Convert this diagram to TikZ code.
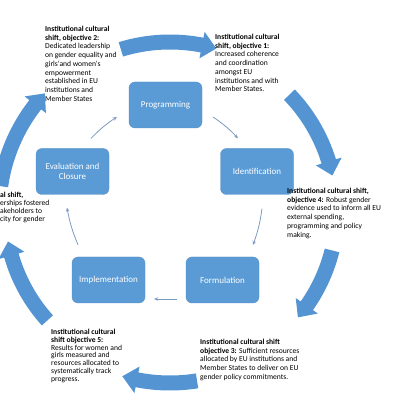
\documentclass[tikz,border=0pt]{standalone}
\usepackage{fontspec}
\setmainfont{Carlito}
\usetikzlibrary{arrows.meta,calc}
\definecolor{boxblue}{RGB}{91,155,213}
\definecolor{arrowblue}{RGB}{84,148,210}
\definecolor{flowgray}{RGB}{125,155,192}
\newcommand\bigarc[4]{%
  \fill[arrowblue,shift={(170,190)}]
    ({#1}:{#4+7.5}) arc[start angle={#1},end angle={#2},radius={#4+7.5}]
    -- ({#2}:{#4+13.5}) -- ({#3}:{#4}) -- ({#2}:{#4-13.5})
    -- ({#2}:{#4-7.5}) arc[start angle={#2},end angle={#1},radius={#4-7.5}]
    -- cycle;}
\tikzset{
  stagebox/.style={fill=boxblue,draw=boxblue!90!black,line width=0.3pt,rounded corners=6pt,
    minimum width=73pt,minimum height=46pt,inner sep=1pt,align=center,
    text=white,font=\fontsize{9}{10.5}\selectfont},
  note/.style={anchor=north west,inner sep=0pt,align=left,text=black,
    font=\fontsize{7.6}{8.7}\selectfont},
  flow/.style={draw=flowgray,line width=0.8pt,-{Stealth[length=4pt,width=3.5pt]}}
}
\begin{document}
\begin{tikzpicture}[x=1pt,y=1pt]
\useasboundingbox (0,0) rectangle (400,400);
\fill[white] (0,0) rectangle (400,400);
\clip (0,0) rectangle (400,400);
% big curved arrows
\bigarc{107}{79}{74}{168}
\bigarc{44}{17}{12}{166}
\bigarc{-14}{-35}{-40}{167}
\bigarc{-81}{-101}{-106}{173}
\bigarc{-138}{-164}{-169}{165}
\bigarc{172}{142}{137}{171}
% stage boxes
\node[stagebox] (prog) at (165.5,295) {Programming};
\node[stagebox] (ident) at (257,228.5) {Identification};
\node[stagebox] (form) at (222.5,120) {Formulation};
\node[stagebox] (impl) at (108.5,120) {Implementation};
\node[stagebox] (eval) at (72.5,228.5) {Evaluation and\\Closure};
% small flow arrows
\draw[flow] ($(eval.north)+(18.5,10)$) to[bend left=6] ($(prog.west)+(-12,-12)$);
\draw[flow] ($(prog.east)+(11,-12)$) to[bend left=6] ($(ident.north)+(-19,10)$);
\draw[flow] ($(ident.south)+(5,-14)$) to[bend left=6] ($(form.north)+(30.5,12)$);
\draw[flow] ($(form.west)+(-9,-19)$) -- ($(impl.east)+(9,-19)$);
\draw[flow] ($(impl.north)+(-30.5,12)$) to[bend left=6] ($(eval.south)+(-5.5,-13)$);
% notes
\node[note] (n2) at (45,374) {\textbf{Institutional cultural}\\\textbf{shift, objective 2:}\\Dedicated leadership\\on gender equality and\\girls`and women`s\\empowerment\\established in EU\\institutions and\\Member States};
\node[note] (n1) at (215,366) {\textbf{Institutional cultural}\\\textbf{shift, objective 1:}\\Increased coherence\\and coordination\\amongst EU\\institutions and with\\Member States.};
\node[note] (n4) at (287,212) {\textbf{Institutional cultural shift,}\\\textbf{objective 4:} Robust gender\\evidence used to inform all EU\\external spending,\\programming and policy\\making.};
\node[note] (n3) at (200,61) {\textbf{Institutional cultural shift}\\\textbf{objective 3:} Sufficient resources\\allocated by EU institutions and\\Member States to deliver on EU\\gender policy commitments.};
\node[note,font=\fontsize{7.6}{7.8}\selectfont] (n5) at (51,71) {\textbf{Institutional cultural}\\\textbf{shift objective 5:}\\Results for women and\\girls measured and\\resources allocated to\\systematically track\\progress.};
\node[note,font=\fontsize{7.6}{8.1}\selectfont] (n6) at (0,208) {\textbf{al shift,}\\erships fostered\\akeholders to\\city for gender};
\end{tikzpicture}
\end{document}
